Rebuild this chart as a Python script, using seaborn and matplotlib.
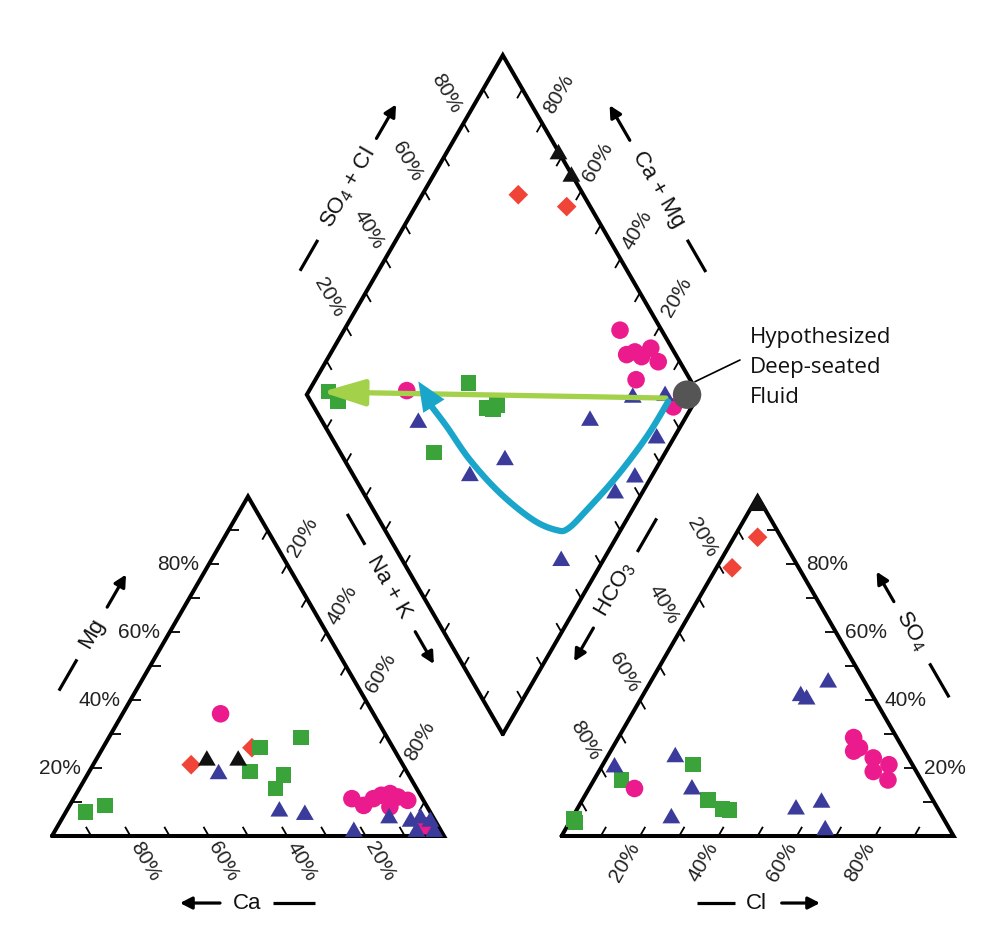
import numpy as np
import pandas as pd
import matplotlib
matplotlib.use("Agg")
import matplotlib.pyplot as plt
from matplotlib.path import Path
from matplotlib.patches import FancyArrowPatch, ArrowStyle
from matplotlib.collections import LineCollection
import seaborn as sns

# ---------------- data (percent of meq) ----------------
# Cation triangle: Ca, Mg  (Na+K = remainder)
cat_green_ca = [88, 82, 34, 22, 40, 32, 36]
cat_green_mg = [7, 9, 26, 29, 19, 18, 14]
cat_pink_ca = [39, 18, 16, 12.5, 10, 7.5, 6, 4, 9.5, 3]
cat_pink_mg = [36, 11, 9, 11, 12, 12.5, 11.5, 10.5, 8.6, 3]
cat_blue_ca = [48, 38, 32, 22, 11, 6, 3, 1, 6, 1.5]
cat_blue_mg = [19, 8, 7, 2, 6, 5, 6, 5, 2, 2]
cat_black_ca = [49, 41]
cat_black_mg = [23, 23]
cat_red_ca = [54, 36]
cat_red_mg = [21, 26]

# Anion triangle: Cl, SO4  (HCO3 = remainder)
an_green_cl = [23, 7, 32, 37, 39, 0.7, 1.6]
an_green_so4 = [21, 16.5, 10.6, 8, 7.7, 5, 4]
an_pink_cl = [11.6, 60, 62, 68, 73, 70, 75, 63]
an_pink_so4 = [14, 29, 25, 23, 21, 19, 16.5, 26]
an_blue_cl = [45, 40, 42, 3, 17, 26, 25, 55.5, 61, 66]
an_blue_so4 = [46, 42, 41, 21, 24, 14.5, 6, 8.6, 10.6, 2.5]
an_black_cl = [1, 0.8]
an_black_so4 = [98, 98.5]
an_red_cl = [6, 4]
an_red_so4 = [88, 79]

# Diamond: Ca+Mg, SO4+Cl
dia_green_camg = [95, 91, 60.5, 52, 50, 59, 50.4]
dia_green_so4cl = [6, 7, 43, 44, 47, 24, 45.4]
dia_pink_camg = [29.6, 24.3, 22.6, 20.2, 19.1, 15.2, 18.2, 75.1, 4.7]
dia_pink_so4cl = [89.4, 87.5, 90, 91, 94.6, 94.5, 86.2, 26.1, 91.7]
dia_blue_camg = [67.8, 24.3, 40.2, 46.8, 16.8, 8.8, 4.7, 4.5, 7.2, 11]
dia_blue_so4cl = [24.7, 68.8, 41.3, 30, 83.1, 91.6, 83.2, 71.9, 64.5, 40.8]
dia_black_camg = [71.6, 65]
dia_black_so4cl = [100, 100]
dia_red_camg = [75.5, 61.4]
dia_red_so4cl = [83.4, 94]

# Hypothesized deep-seated fluid, mixing arrow and evolution path (diamond coords)
fluid_camg = [3]
fluid_so4cl = [97]
mix_camg = [7.9, 96.6]
mix_so4cl = [91.1, 4.2]
path_camg = [6.8, 7.1, 8.9, 11.6, 13.6, 16.3, 23.8, 36.2, 48.8, 59.6, 66.4]
path_so4cl = [91.2, 80.5, 67.0, 54.4, 47.0, 43.8, 39.3, 34.8, 32.0, 31.0, 30.1]
path_tip_camg = 73.5
path_tip_so4cl = 30.4

tick_values = [10, 20, 30, 40, 50, 60, 70, 80, 90]
label_values = [20, 40, 60, 80]

# ---------------- geometry ----------------
H = np.sqrt(3) / 2
GAP = 0.3
AOFF = 1 + GAP


def cation_xy(ca, mg):
    ca = np.asarray(ca, float) / 100
    mg = np.asarray(mg, float) / 100
    nak = 1 - ca - mg
    return nak + mg / 2, mg * H


def anion_xy(cl, so4):
    cl = np.asarray(cl, float) / 100
    so4 = np.asarray(so4, float) / 100
    return AOFF + cl + so4 / 2, so4 * H


def diamond_xy(camg, so4cl):
    c = np.asarray(camg, float) / 100
    s = np.asarray(so4cl, float) / 100
    return 1 + GAP / 2 + 0.5 * (s - c), GAP * H + H * (s + c)


def smooth(x, y, n=12):
    """Catmull-Rom rendering of a hand-drawn guide curve."""
    P = np.column_stack([x, y])
    P = np.vstack([P[0], P, P[-1]])
    out = []
    for i in range(1, len(P) - 2):
        p0, p1, p2, p3 = P[i - 1], P[i], P[i + 1], P[i + 2]
        for t in np.linspace(0, 1, n, endpoint=False):
            t2, t3 = t * t, t * t * t
            out.append(0.5 * ((2 * p1) + (-p0 + p2) * t +
                              (2 * p0 - 5 * p1 + 4 * p2 - p3) * t2 +
                              (-p0 + 3 * p1 - 3 * p2 + p3) * t3))
    out.append(P[-2])
    out = np.array(out)
    return out[:, 0], out[:, 1]


rows = []
def add(panel, group, xy):
    for x, y in zip(*xy):
        rows.append(dict(panel=panel, group=group, x=x, y=y))

add("cation", "green", cation_xy(cat_green_ca, cat_green_mg))
add("cation", "pink", cation_xy(cat_pink_ca, cat_pink_mg))
add("cation", "blue", cation_xy(cat_blue_ca, cat_blue_mg))
add("cation", "black", cation_xy(cat_black_ca, cat_black_mg))
add("cation", "red", cation_xy(cat_red_ca, cat_red_mg))
add("anion", "green", anion_xy(an_green_cl, an_green_so4))
add("anion", "pink", anion_xy(an_pink_cl, an_pink_so4))
add("anion", "blue", anion_xy(an_blue_cl, an_blue_so4))
add("anion", "black", anion_xy(an_black_cl, an_black_so4))
add("anion", "red", anion_xy(an_red_cl, an_red_so4))
add("diamond", "green", diamond_xy(dia_green_camg, dia_green_so4cl))
add("diamond", "pink", diamond_xy(dia_pink_camg, dia_pink_so4cl))
add("diamond", "blue", diamond_xy(dia_blue_camg, dia_blue_so4cl))
add("diamond", "black", diamond_xy(dia_black_camg, dia_black_so4cl))
add("diamond", "red", diamond_xy(dia_red_camg, dia_red_so4cl))
df = pd.DataFrame(rows)

# ---------------- style ----------------
sns.set_theme(style="white")
plt.rcParams["font.family"] = ["Liberation Sans", "DejaVu Sans"]
plt.rcParams["mathtext.fontset"] = "custom"
plt.rcParams["mathtext.rm"] = "Liberation Sans"

TRI = Path([(-1, -0.866), (1, -0.866), (0, 0.866), (-1, -0.866)],
           [Path.MOVETO, Path.LINETO, Path.LINETO, Path.CLOSEPOLY])
STYLE = {
    "red": dict(marker="D", color="#f04438", s=100),
    "green": dict(marker="s", color="#3aa33a", s=125),
    "pink": dict(marker="o", color="#ec1b8d", s=160),
    "blue": dict(marker=TRI, color="#3b3b9c", s=165),
    "black": dict(marker=TRI, color="#111111", s=165),
}
ORDER = ["red", "green", "pink", "blue", "black"]

fig = plt.figure(figsize=(10, 9.51), dpi=100)
ax = fig.add_axes([0, 0, 1, 1])

# frames
cat_tri = np.array([(0, 0), (1, 0), (0.5, H), (0, 0)])
an_tri = np.array([(AOFF, 0), (AOFF + 1, 0), (AOFF + 0.5, H), (AOFF, 0)])
Bm = np.array([1 + GAP / 2, GAP * H])
Lv = Bm + np.array([-0.5, H])
Tv = Bm + np.array([0, 2 * H])
Rv = Bm + np.array([0.5, H])
dia = np.array([Bm, Lv, Tv, Rv, Bm])
for poly in (cat_tri, an_tri, dia):
    ax.plot(poly[:, 0], poly[:, 1], color="black", lw=2.9,
            solid_joinstyle="miter", zorder=2)

TICK = 0.027


def draw_axis(p0, p1, inward, out=None, rot=0, dist=0.08):
    p0 = np.asarray(p0, float)
    p1 = np.asarray(p1, float)
    inward = np.asarray(inward, float)
    inward = inward / np.linalg.norm(inward)
    segs = []
    for v in tick_values:
        p = p0 + v / 100 * (p1 - p0)
        segs.append([p, p + TICK * inward])
    ax.add_collection(LineCollection(segs, colors="black", linewidths=1.3, zorder=2))
    if out is not None:
        out = np.asarray(out, float)
        out = out / np.linalg.norm(out)
        for v in label_values:
            p = p0 + v / 100 * (p1 - p0) + dist * out
            ax.text(p[0], p[1], f"{v}%", rotation=rot, rotation_mode="anchor",
                    ha="center", va="center", fontsize=15, color="#222222")


A_c = np.array([0.5, H])
A_a = np.array([AOFF + 0.5, H])
# cation triangle
draw_axis((1, 0), (0, 0), (-0.5, H), (0.5, -H), -60, 0.074)      # Ca
draw_axis((0, 0), A_c, (1, 0), (-1, 0), 0, 0.079)                # Mg
draw_axis(A_c, (1, 0), (-0.5, -H), (0.5, H), 60, 0.079)          # Na+K
# anion triangle
draw_axis((AOFF, 0), (AOFF + 1, 0), (0.5, H), (-0.5, -H), 60, 0.078)   # Cl
draw_axis((AOFF + 1, 0), A_a, (-1, 0), (1, 0), 0, 0.077)               # SO4
draw_axis(A_a, (AOFF, 0), (0.5, -H), (-0.5, H), -60, 0.081)            # HCO3
# diamond
draw_axis(Lv, Tv, (0.5, -H), (-0.5, H), -60, 0.086)
draw_axis(Rv, Tv, (-0.5, -H), (0.5, H), 60, 0.086)
draw_axis(Lv, Bm, (0.5, H))
draw_axis(Rv, Bm, (-0.5, H))


def title(p0, p1, normal, off, text, t_text, rot, dash, arrow):
    p0 = np.asarray(p0, float)
    p1 = np.asarray(p1, float)
    n = np.asarray(normal, float)
    n = n / np.linalg.norm(n)
    P = lambda t: p0 + t * (p1 - p0) + off * n
    pt = P(t_text)
    ax.text(pt[0], pt[1], text, rotation=rot, rotation_mode="anchor",
            ha="center", va="center", fontsize=16, color="#111111")
    a, b = P(dash[0]), P(dash[1])
    ax.plot([a[0], b[0]], [a[1], b[1]], color="black", lw=2.3,
            solid_capstyle="butt")
    a, b = P(arrow[0]), P(arrow[1])
    ax.add_patch(FancyArrowPatch(a, b, arrowstyle=ArrowStyle("-|>", head_length=7, head_width=3.6),
                                 mutation_scale=1, lw=2.3, color="black",
                                 shrinkA=0, shrinkB=0))


title(Lv, Tv, (-H, 0.5), 0.173, r"SO$_\mathregular{4}$ + Cl", 0.51, 60, (0.265, 0.356), (0.655, 0.755))
title(Rv, Tv, (H, 0.5), 0.172, "Ca + Mg", 0.505, -60, (0.262, 0.357), (0.65, 0.753))
title(A_c, (1, 0), (H, 0.5), 0.197, "Na + K", 0.38, -60, (0.165, 0.256), (0.512, 0.607))
title(A_a, (AOFF, 0), (-H, 0.5), 0.195, r"HCO$_\mathregular{3}$", 0.388, 60, (0.177, 0.276), (0.50, 0.598))
title((0, 0), A_c, (-H, 0.5), 0.17, "Mg", 0.498, 60, (0.33, 0.422), (0.576, 0.672))
title((AOFF + 1, 0), A_a, (H, 0.5), 0.167, r"SO$_\mathregular{4}$", 0.507, -60, (0.312, 0.412), (0.594, 0.682))
title((0, 0), (1, 0), (0, -1), 0.171, "Ca", 0.497, 0, (0.5645, 0.6709), (0.4286, 0.3265))
title((AOFF, 0), (AOFF + 1, 0), (0, -1), 0.171, "Cl", 0.4977, 0, (0.3446, 0.4423), (0.5615, 0.6592))

# sample markers
for g in ORDER:
    st = STYLE[g]
    sub = df[df["group"] == g]
    sns.scatterplot(data=sub, x="x", y="y", ax=ax, marker=st["marker"],
                    color=st["color"], s=st["s"], edgecolor="none",
                    linewidth=0, legend=False, zorder=3)

# mixing arrow (light green)
mx, my = diamond_xy(mix_camg, mix_so4cl)
ax.add_patch(FancyArrowPatch((mx[0], my[0]), (mx[1], my[1]),
                             arrowstyle=ArrowStyle("-|>", head_length=26, head_width=8),
                             mutation_scale=1, lw=3.8, color="#a3d14a",
                             shrinkA=0, shrinkB=0, zorder=5))

# evolution path (cyan)
CYAN = "#1aa5cb"
px, py = diamond_xy(path_camg, path_so4cl)
sx, sy = smooth(px, py)
ax.plot(sx, sy, color=CYAN, lw=4.5, solid_capstyle="round",
        solid_joinstyle="round", zorder=6)
tx, ty = diamond_xy([path_tip_camg], [path_tip_so4cl])
ax.add_patch(FancyArrowPatch((px[-2], py[-2]), (tx[0], ty[0]),
                             arrowstyle=ArrowStyle("-|>", head_length=21, head_width=9),
                             mutation_scale=1, lw=0, color=CYAN,
                             shrinkA=0, shrinkB=0, zorder=6))

# hypothesized fluid
fx, fy = diamond_xy(fluid_camg, fluid_so4cl)
sns.scatterplot(x=fx, y=fy, ax=ax, color="#555555", s=420, edgecolor="none",
                linewidth=0, legend=False, zorder=7)
ax.plot([1.6403, 1.7551], [1.159, 1.2143], color="black", lw=1.2, zorder=8)
for txt, yb in zip(["Hypothesized", "Deep-seated", "Fluid"], [1.2584, 1.1804, 1.1038]):
    ax.text(1.7806, yb, txt, ha="left", va="baseline", fontsize=16,
            family=["Open Sans", "DejaVu Sans"], color="#111111")

ax.set_xlim(-52 / 392, 948 / 392)
ax.set_ylim((836 - 951) / 392, 836 / 392)
ax.set_aspect("auto")
ax.axis("off")
fig.savefig("out.png", dpi=100)
